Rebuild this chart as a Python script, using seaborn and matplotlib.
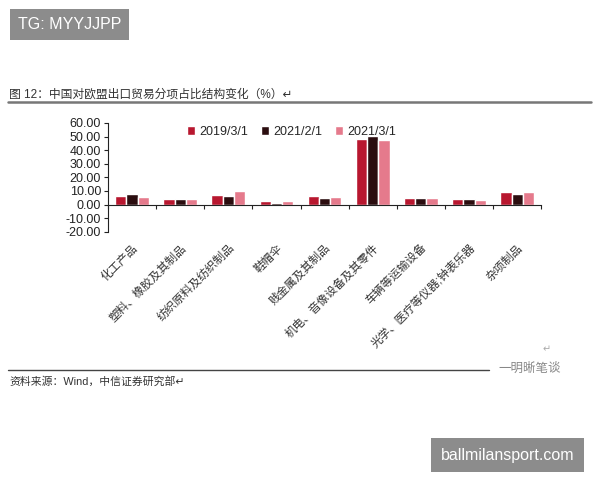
import matplotlib
matplotlib.use("Agg")
import matplotlib.pyplot as plt
import matplotlib.ticker as mticker
import pandas as pd
import seaborn as sns

sns.set_style("white")
plt.rcParams['font.family'] = ['Liberation Sans', 'Noto Sans CJK SC', 'DejaVu Sans']

# data
categories = ['化工产品', '塑料、橡胶及其制品', '纺织原料及纺织制品', '鞋帽伞', '贱金属及其制品',
              '机电、音像设备及其零件', '车辆等运输设备', '光学、医疗等仪器;钟表乐器', '杂项制品']
series = ['2019/3/1', '2021/2/1', '2021/3/1']
v_2019_03 = [6.6, 3.9, 7.3, 2.7, 6.6, 48.5, 4.6, 4.0, 8.9]
v_2021_02 = [8.0, 3.9, 6.1, 1.5, 4.6, 50.2, 4.6, 4.0, 7.9]
v_2021_03 = [5.6, 3.9, 9.7, 2.4, 5.6, 47.5, 4.6, 3.3, 8.9]
colors = ['#b8172f', '#2b0d0f', '#e57a8c']

df = pd.DataFrame({'cat': categories * 3,
                   'series': [s for s in series for _ in categories],
                   'value': v_2019_03 + v_2021_02 + v_2021_03})

fig = plt.figure(figsize=(6, 4.8), dpi=100)
ax = fig.add_axes([0.18, 0.517, 0.722, 0.227])

sns.barplot(data=df, x='cat', y='value', hue='series', order=categories,
            hue_order=series, palette=colors, width=0.7, ax=ax, saturation=1)

ax.set_ylim(-20, 60)
ax.set_xlim(-0.5, len(categories) - 0.5)
ax.yaxis.set_major_locator(mticker.MultipleLocator(10))
ax.yaxis.set_major_formatter(mticker.FormatStrFormatter('%.2f'))
ax.set_xlabel('')
ax.set_ylabel('')

for s in ['top', 'right']:
    ax.spines[s].set_visible(False)
ax.spines['bottom'].set_position(('data', 0))
ax.spines['left'].set_color('#222222')
ax.spines['bottom'].set_color('#222222')
ax.spines['left'].set_linewidth(0.8)
ax.spines['bottom'].set_linewidth(0.8)

ax.tick_params(axis='y', which='major', left=True, length=3, width=0.8,
               labelsize=9, pad=2, colors='#222222')
ax.xaxis.set_minor_locator(mticker.FixedLocator([i + 0.5 for i in range(-1, len(categories))]))
ax.tick_params(axis='x', which='minor', bottom=True, length=3, width=0.8, color='#222222')
ax.tick_params(axis='x', which='major', bottom=False, length=0, pad=27, labelsize=8.3)
for lab in ax.get_xticklabels():
    lab.set_rotation(45)
    lab.set_ha('right')
    lab.set_rotation_mode('anchor')
    lab.set_color('#333333')

ax.legend(loc='upper left', bbox_to_anchor=(0.17, 1.02), ncol=3, frameon=False,
          fontsize=9, handlelength=0.7, handleheight=0.7, handletextpad=0.3,
          columnspacing=1.0, borderaxespad=0)

# title, rules and source note
fig.text(0.015, 0.802, '图 12：中国对欧盟出口贸易分项占比结构变化（%）↵', fontsize=8.5,
         color='#333333', va='center')
fig.add_artist(plt.Line2D([0.013, 0.985], [0.787, 0.787], color='#777777', lw=1.8))
fig.add_artist(plt.Line2D([0.013, 0.815], [0.229, 0.229], color='#444444', lw=1.0))
fig.text(0.015, 0.205, '资料来源：Wind，中信证券研究部↵', fontsize=7.8, color='#333333', va='center')
fig.text(0.83, 0.232, '一明晰笔谈', fontsize=9, color='#888888', va='center')
fig.text(0.905, 0.272, '↵', fontsize=7, color='#aaaaaa', va='center')

# watermark boxes
fig.text(0.03, 0.948, 'TG: MYYJJPP', fontsize=11.5, color='white', va='center',
         bbox=dict(boxstyle='square,pad=0.5', fc='#8c8c8c', ec='none'))
fig.text(0.735, 0.052, 'ballmilansport.com', fontsize=11.5, color='white', va='center',
         bbox=dict(boxstyle='square,pad=0.6', fc='#8c8c8c', ec='none'))

fig.savefig('out.png', dpi=100)
